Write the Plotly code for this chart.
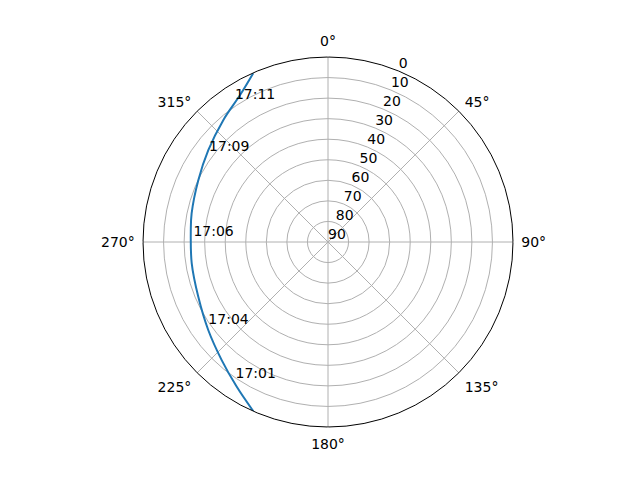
import plotly.graph_objects as go

# satellite pass: azimuth (deg, clockwise from north) and elevation (deg)
azimuth = [203.8, 212.3, 222.0, 233.7, 247.1, 261.1, 275.0, 281.9, 295.5, 307.5, 319.4, 329.1, 336.1]
elevation = [0.0, 6.8, 12.7, 17.7, 21.5, 22.9, 23.0, 22.2, 20.1, 16.6, 11.8, 6.7, 0.2]

# time labels along the pass
label_times = ["17:01", "17:04", "17:06", "17:09", "17:11"]
label_az = [213.5, 234.5, 271.1, 306.2, 326.2]
label_el = [8.5, 18.5, 24.5, 18.3, 8.6]

elev_ticks = [0, 10, 20, 30, 40, 50, 60, 70, 80, 90]

fig = go.Figure()
fig.add_scatterpolar(r=[90 - e for e in elevation], theta=azimuth, mode="lines",
                     line=dict(color="#1f77b4", width=2, shape="spline"),
                     showlegend=False)
fig.add_scatterpolar(r=[90 - e for e in label_el], theta=label_az, mode="text",
                     text=label_times, textposition="top right",
                     textfont=dict(size=14, color="black"), showlegend=False)
# radial (elevation) labels, drawn like matplotlib at 22.5 deg
fig.add_scatterpolar(r=[90 - e for e in elev_ticks], theta=[22.5] * len(elev_ticks),
                     mode="text", text=[str(e) for e in elev_ticks],
                     textposition="top right", textfont=dict(size=14, color="black"),
                     showlegend=False, hoverinfo="skip")

fig.update_layout(
    width=640, height=480,
    paper_bgcolor="white",
    font=dict(family="DejaVu Sans", size=14, color="black"),
    margin=dict(l=135, r=135, t=49, b=61, autoexpand=False),
    polar=dict(
        bgcolor="white",
        angularaxis=dict(rotation=90, direction="clockwise", dtick=45,
                         ticksuffix="°", showline=True, linecolor="black",
                         linewidth=1, gridcolor="#b0b0b0", gridwidth=0.8,
                         ticks="outside", ticklen=5, tickcolor="white"),
        radialaxis=dict(range=[0, 90], tickvals=[90 - e for e in elev_ticks],
                        showticklabels=False,
                        showline=False, gridcolor="#b0b0b0", gridwidth=0.8,
                        ticks=""),
    ),
)
fig.write_html("out.html")
